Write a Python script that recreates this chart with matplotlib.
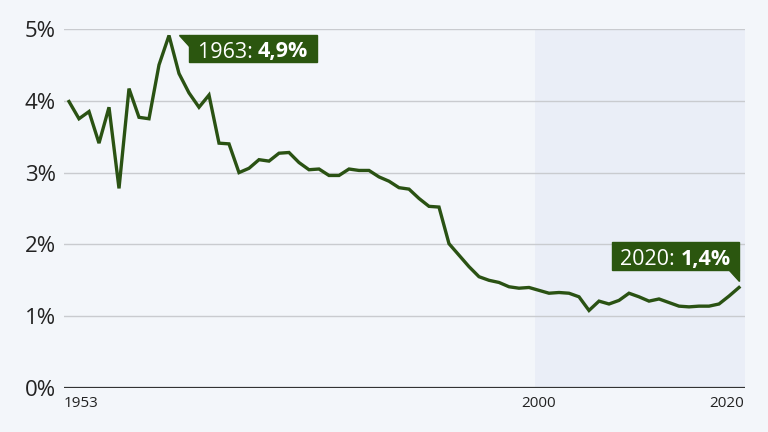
import matplotlib
matplotlib.use("Agg")
import matplotlib.pyplot as plt
import matplotlib.transforms as mtrans
from matplotlib.patches import Polygon, Rectangle

years = list(range(1953, 2021))
values = [3.99, 3.75, 3.85, 3.41, 3.91, 2.78, 4.17, 3.77, 3.75, 4.50,
          4.91, 4.38, 4.11, 3.91, 4.08, 3.41, 3.40, 3.00, 3.06, 3.18,
          3.16, 3.27, 3.28, 3.14, 3.04, 3.05, 2.96, 2.96, 3.05, 3.03,
          3.03, 2.94, 2.88, 2.79, 2.77, 2.64, 2.53, 2.52, 2.01, 1.85,
          1.69, 1.55, 1.50, 1.47, 1.41, 1.39, 1.40, 1.36, 1.32, 1.33,
          1.32, 1.27, 1.08, 1.21, 1.17, 1.22, 1.32, 1.27, 1.21, 1.24,
          1.19, 1.14, 1.13, 1.14, 1.14, 1.17, 1.28, 1.40]
y_ticks = [0, 1, 2, 3, 4, 5]
y_labels = ["0%", "1%", "2%", "3%", "4%", "5%"]
x_ticks = [1953, 2000, 2020]
x_labels = ["1953", "2000", "2020"]
ann1_text = ("1963: ", "4,9%")
ann2_text = ("2020: ", "1,4%")

bg = "#f3f6fa"
shade = "#eaeef7"
green = "#2a5213"
boxc = "#2b560f"

plt.rcParams['font.family'] = ['Open Sans', 'DejaVu Sans']

fig = plt.figure(figsize=(7.68, 4.32), dpi=100, facecolor=bg)
W, H = 768, 432
ax = fig.add_axes([64 / W, 1 - 388 / H, (745 - 64) / W, (388 - 29) / H])
ax.set_facecolor(bg)
ax.set_xlim(1952.5, 2020.6)
ax.set_ylim(0, 5)

ax.axvspan(1999.6, 2020.6, color=shade, zorder=0, lw=0)
for t in y_ticks[1:]:
    ax.axhline(t, color="#c9cbcf", lw=1.0, zorder=1)
ax.axhline(0, color="#333333", lw=1.6, zorder=3)

ax.plot(years, values, color=green, lw=2.4, zorder=4, solid_joinstyle="miter")

for s in ax.spines.values():
    s.set_visible(False)
ax.tick_params(length=0)
ax.set_yticks(y_ticks)
ax.set_yticklabels(y_labels, fontsize=16, color="#222222")
ax.tick_params(axis='y', pad=6)
ax.set_xticks(x_ticks)
xt = ax.set_xticklabels(x_labels, fontsize=11, color="#222222")
xt[0].set_ha("left")
xt[-1].set_ha("right")
ax.tick_params(axis='x', pad=6)
xt[0].set_transform(xt[0].get_transform() + mtrans.ScaledTranslation(-5 / 100, 0, fig.dpi_scale_trans))
xt[-1].set_transform(xt[-1].get_transform() + mtrans.ScaledTranslation(5 / 100, 0, fig.dpi_scale_trans))


def px_box(x0, y0, x1, y1, tri):
    r = Rectangle((x0 / W, 1 - y1 / H), (x1 - x0) / W, (y1 - y0) / H,
                  transform=fig.transFigure, color=boxc, zorder=10)
    fig.add_artist(r)
    p = Polygon([(a / W, 1 - b / H) for a, b in tri], closed=True,
                transform=fig.transFigure, color=boxc, zorder=10)
    fig.add_artist(p)


def two_part(xc, yc, parts):
    t1 = fig.text(0, 0, parts[0], fontsize=15.5, color="white", zorder=11)
    t2 = fig.text(0, 0, parts[1], fontsize=15.5, color="white", fontweight="bold", zorder=11)
    fig.canvas.draw()
    r = fig.canvas.get_renderer()
    w1 = t1.get_window_extent(r).width
    w2 = t2.get_window_extent(r).width
    total = w1 + w2
    x0 = xc - total / 2
    t1.set_position((x0 / W, 1 - yc / H))
    t2.set_position(((x0 + w1) / W, 1 - yc / H))
    t1.set_va("center_baseline")
    t2.set_va("center_baseline")


px_box(189, 35, 317, 62, [(179, 35), (189, 35), (189, 46)])
two_part(253, 49.5, ann1_text)
px_box(612, 242, 739, 270, [(729, 270), (739, 270), (739, 281)])
two_part(675.5, 257, ann2_text)

fig.savefig("out.png", dpi=100, facecolor=bg)
